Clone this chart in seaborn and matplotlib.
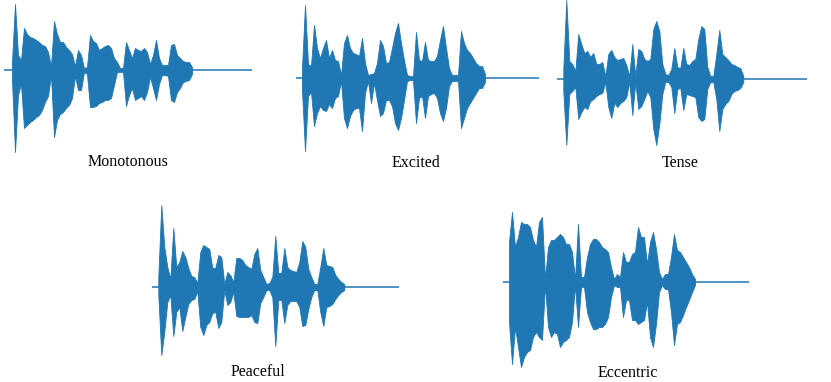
import numpy as np
import pandas as pd
import matplotlib
matplotlib.use("Agg")
import matplotlib.pyplot as plt
import seaborn as sns

# ---- data: envelope of each waveform (amplitude above / below the baseline), one sample per step ----
titles = ["Monotonous", "Excited", "Tense", "Peaceful", "Eccentric"]

mono_up = [8, 66, 15, 10, 42, 36, 33, 32, 30, 28, 25, 24, 18, 4, 49, 36, 28, 28, 23, 20, 16, 4, 20, 15, 2, 3,
           35, 29, 27, 20, 22, 24, 25, 22, 12, 8, 2, 2, 28, 20, 12, 22, 20, 19, 22, 18, 6, 15, 30, 12, 5, 5, 5,
           25, 26, 15, 12, 9, 8, 8, 3]
mono_dn = [10, 82, 25, 14, 58, 55, 52, 50, 47, 45, 40, 32, 26, 5, 67, 50, 44, 42, 38, 35, 28, 6, 20, 20, 2, 4,
           37, 37, 36, 33, 32, 30, 30, 28, 15, 2, 2, 2, 36, 25, 18, 30, 28, 26, 30, 22, 7, 18, 30, 14, 5, 5, 6,
           30, 32, 22, 18, 12, 11, 10, 4]

exc_up = [10, 73, 14, 12, 53, 30, 20, 30, 38, 20, 28, 18, 17, 3, 35, 43, 30, 25, 24, 22, 40, 15, 3, 4, 5, 15,
          38, 32, 15, 16, 30, 45, 55, 35, 18, 3, 2, 2, 46, 18, 17, 36, 18, 17, 17, 22, 38, 52, 30, 10, 3, 3, 3,
          47, 35, 28, 25, 20, 15, 12, 12, 4]
exc_dn = [12, 73, 18, 14, 48, 35, 28, 32, 33, 26, 30, 20, 18, 3, 40, 50, 38, 32, 30, 30, 53, 15, 3, 25, 5, 22,
          38, 35, 22, 22, 28, 45, 52, 40, 22, 3, 2, 2, 45, 20, 18, 40, 18, 16, 15, 20, 35, 43, 30, 8, 3, 3, 3,
          50, 40, 30, 25, 20, 15, 10, 10, 4]

tense_up = [10, 79, 18, 15, 8, 45, 35, 26, 28, 22, 26, 15, 15, 17, 3, 25, 29, 22, 19, 20, 21, 14, 3, 35, 3, 30,
            28, 20, 18, 20, 50, 58, 48, 15, 5, 4, 10, 31, 12, 11, 31, 15, 14, 18, 20, 40, 53, 50, 12, 3, 3, 25,
            49, 25, 22, 19, 15, 14, 12, 11, 3]
tense_dn = [12, 66, 15, 12, 8, 40, 33, 28, 30, 22, 20, 17, 15, 14, 3, 28, 39, 24, 28, 24, 22, 18, 3, 36, 3, 30,
            27, 20, 12, 18, 50, 66, 45, 15, 3, 3, 8, 34, 10, 9, 31, 15, 16, 17, 18, 38, 42, 40, 10, 3, 3, 20,
            52, 30, 25, 22, 15, 12, 11, 9, 3]

peace_up = [10, 82, 40, 20, 8, 59, 20, 25, 36, 30, 19, 11, 10, 4, 35, 42, 40, 38, 19, 19, 32, 30, 3, 15, 12, 5,
            29, 29, 27, 22, 20, 18, 33, 39, 17, 10, 3, 4, 10, 51, 14, 14, 39, 20, 17, 16, 15, 25, 46, 40, 18, 10,
            3, 3, 20, 39, 22, 21, 20, 12, 8, 5, 3]
peace_dn = [8, 68, 45, 15, 8, 49, 25, 20, 44, 30, 17, 13, 12, 4, 40, 48, 38, 35, 26, 25, 41, 35, 3, 18, 15, 5,
            29, 30, 30, 30, 30, 28, 35, 36, 16, 10, 3, 3, 10, 59, 13, 13, 36, 18, 14, 14, 14, 20, 39, 38, 22, 10,
            3, 3, 25, 39, 20, 19, 17, 12, 8, 5, 3]

ecc_up = [40, 70, 35, 45, 60, 58, 58, 55, 42, 35, 60, 65, 3, 35, 42, 42, 45, 48, 45, 38, 38, 30, 3, 58, 5, 5,
          25, 38, 43, 43, 40, 35, 33, 30, 15, 3, 8, 5, 30, 20, 20, 28, 30, 55, 45, 45, 18, 40, 50, 33, 10, 3, 8,
          8, 25, 48, 32, 30, 25, 20, 15, 8, 3]
ecc_dn = [40, 82, 45, 65, 85, 75, 70, 68, 55, 50, 55, 58, 3, 45, 55, 50, 52, 65, 60, 58, 55, 40, 3, 45, 5, 5,
          30, 40, 47, 47, 45, 45, 42, 35, 15, 3, 5, 5, 35, 18, 18, 38, 38, 42, 40, 38, 20, 55, 65, 42, 10, 3, 7,
          7, 30, 63, 42, 40, 33, 25, 18, 10, 3]

envelopes = [(mono_up, mono_dn), (exc_up, exc_dn), (tense_up, tense_dn),
             (peace_up, peace_dn), (ecc_up, ecc_dn)]

# ---- layout (pixels) ----
W, H = 831, 382
# (axes left, axes width, first-sample x, baseline y, label x, label y)
layout = [
    (4, 248, 12.0, 70, 128, 162),
    (296, 243, 302.0, 78, 416, 163),
    (557, 250, 563.3, 79, 680, 163),
    (152, 247, 158.3, 287, 258, 372),
    (503, 246, 509.0, 282, 628, 373),
]
STEP = 3.0  # pixels between envelope samples
AX_H = 100  # half-height of each axes in px

sns.set_theme(style="white")
plt.rcParams["font.family"] = ["Liberation Serif", "DejaVu Serif"]
color = "#1f77b4"

fig = plt.figure(figsize=(W / 100, H / 100), dpi=100)
for (up, dn), (left, width, start, cy, lx, ly), title in zip(envelopes, layout, titles):
    ax = fig.add_axes([left / W, (H - cy - AX_H) / H, width / W, 2 * AX_H / H])
    n = len(up)
    df = pd.DataFrame({
        "t": list(range(n)) * 2,
        "amp": list(up) + [-v for v in dn],
    })
    ax.axhline(0, color=color, lw=1.1, zorder=1)
    sns.lineplot(data=df, x="t", y="amp", estimator="mean", errorbar=("pi", 100),
                 color=color, linewidth=0.0, ax=ax,
                 err_kws={"alpha": 1.0, "linewidth": 0.6, "edgecolor": color})
    ax.set_xlim((left - start) / STEP, (left + width - start) / STEP)
    ax.set_ylim(-AX_H, AX_H)
    ax.axis("off")
    fig.text(lx / W, 1 - ly / H, title, ha="center", va="center", fontsize=11.5, color="black")

fig.savefig("out.png", dpi=100)
